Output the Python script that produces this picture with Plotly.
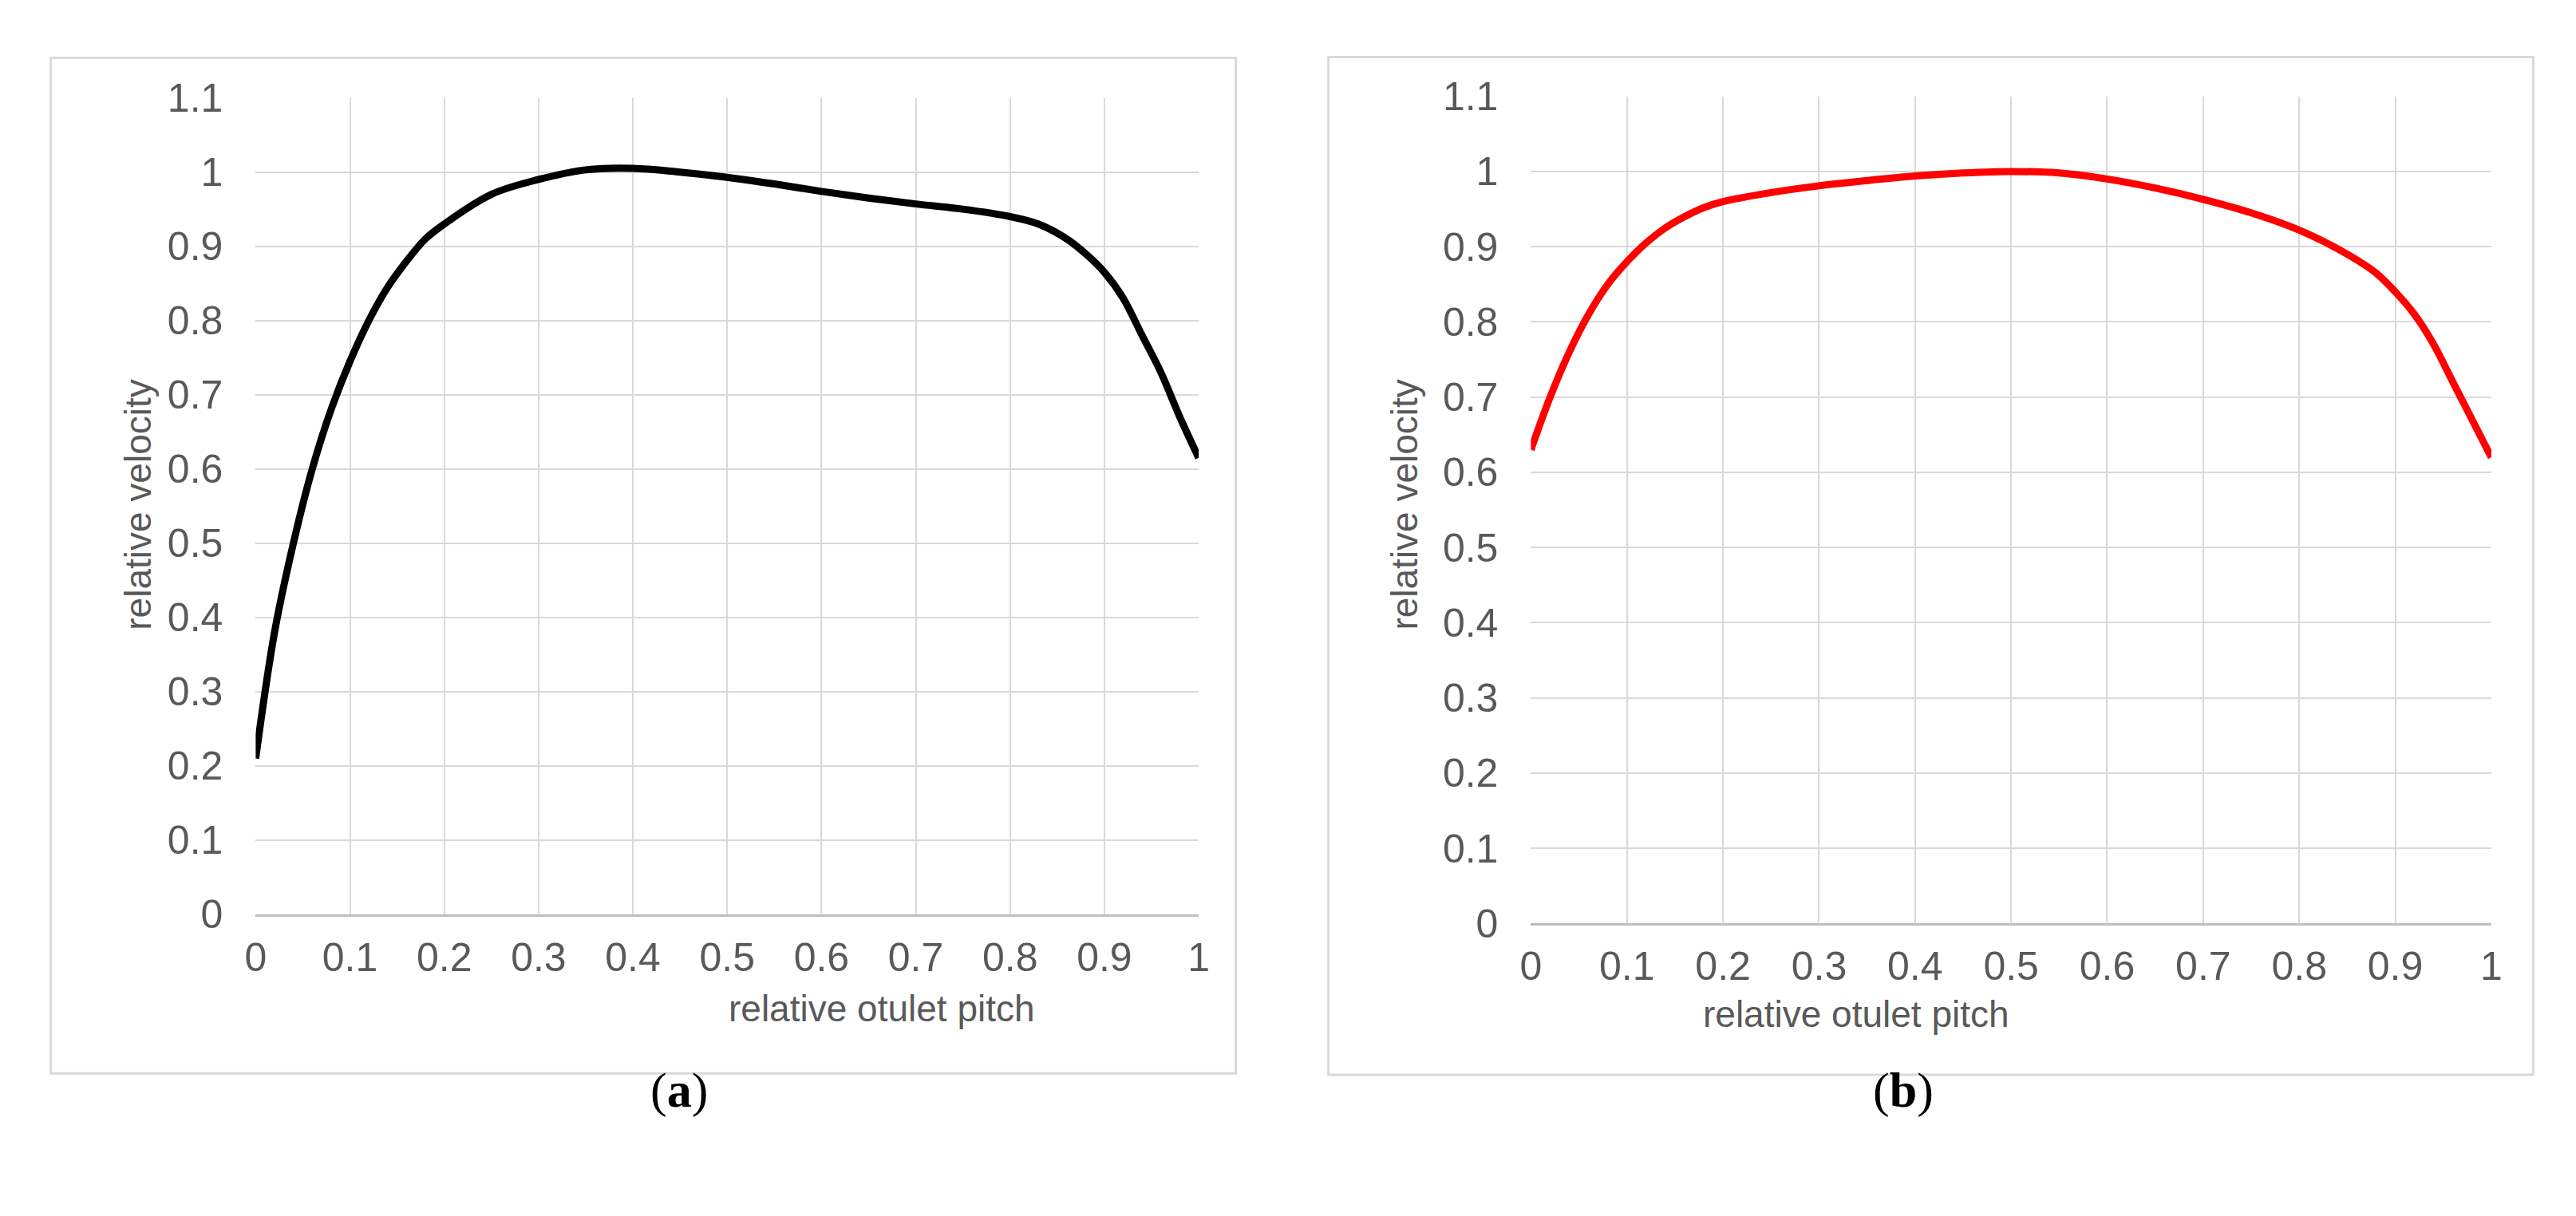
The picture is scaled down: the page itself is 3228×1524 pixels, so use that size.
import plotly.graph_objects as go

x_a = [0, 0.02, 0.04, 0.06, 0.08, 0.1, 0.12, 0.14, 0.16, 0.18, 0.2, 0.25, 0.3, 0.35, 0.4, 0.45, 0.5, 0.55, 0.6, 0.65, 0.7, 0.75, 0.8, 0.83, 0.86, 0.88, 0.9, 0.92, 0.94, 0.96, 0.98, 1.0]
y_a = [0.21, 0.38, 0.50, 0.60, 0.68, 0.745, 0.80, 0.845, 0.88, 0.91, 0.93, 0.97, 0.99, 1.003, 1.005, 1.0, 0.993, 0.984, 0.974, 0.965, 0.957, 0.95, 0.94, 0.93, 0.91, 0.89, 0.865, 0.83, 0.78, 0.73, 0.67, 0.615]
x_b = [0, 0.02, 0.04, 0.06, 0.08, 0.1, 0.12, 0.14, 0.16, 0.18, 0.2, 0.25, 0.3, 0.35, 0.4, 0.45, 0.5, 0.55, 0.6, 0.65, 0.7, 0.75, 0.8, 0.85, 0.88, 0.9, 0.92, 0.94, 0.96, 0.98, 1.0]
y_b = [0.63, 0.70, 0.76, 0.81, 0.85, 0.88, 0.905, 0.925, 0.94, 0.952, 0.96, 0.972, 0.981, 0.988, 0.994, 0.998, 1.0, 0.998, 0.99, 0.978, 0.963, 0.945, 0.922, 0.89, 0.865, 0.84, 0.81, 0.77, 0.72, 0.67, 0.62]
x_ticks = [0, 0.1, 0.2, 0.3, 0.4, 0.5, 0.6, 0.7, 0.8, 0.9, 1]
x_ticktext = ["0", "0.1", "0.2", "0.3", "0.4", "0.5", "0.6", "0.7", "0.8", "0.9", "1"]
y_ticks = [0, 0.1, 0.2, 0.3, 0.4, 0.5, 0.6, 0.7, 0.8, 0.9, 1, 1.1]
y_ticktext = ["0", "0.1", "0.2", "0.3", "0.4", "0.5", "0.6", "0.7", "0.8", "0.9", "1", "1.1"]
x_title = "relative otulet pitch"
y_title = "relative velocity"
panel_labels = ["a", "b"]

W, H = 3228, 1524
def px(v): return v / W
def py(v): return 1 - v / H

fig = go.Figure()
fig.add_trace(go.Scatter(x=x_a, y=y_a, mode="lines", line=dict(color="black", width=9, shape="spline"),
                         xaxis="x", yaxis="y", showlegend=False))
fig.add_trace(go.Scatter(x=x_b, y=y_b, mode="lines", line=dict(color="#ff0000", width=9, shape="spline"),
                         xaxis="x2", yaxis="y2", showlegend=False))

tickfont = dict(family="Liberation Sans, Arial", size=50, color="#595959")
def xax(dom, anchor):
    return dict(domain=dom, anchor=anchor, range=[0, 1], tickvals=x_ticks, ticktext=x_ticktext,
                showgrid=True, gridcolor="#d9d9d9", gridwidth=2, showline=True, linecolor="#bfbfbf",
                linewidth=3, zeroline=False, tickfont=tickfont, ticks="", ticklabelstandoff=8)
def yax(dom, anchor):
    return dict(domain=dom, anchor=anchor, range=[0, 1.1], tickvals=y_ticks, ticktext=y_ticktext,
                showgrid=True, gridcolor="#d9d9d9", gridwidth=2, showline=False, zeroline=False,
                tickfont=tickfont, ticks="", ticklabelstandoff=40)

fig.update_layout(
    width=W, height=H, margin=dict(l=0, r=0, t=0, b=0),
    paper_bgcolor="white", plot_bgcolor="white",
    xaxis=xax([px(301), px(1493)], "y"), yaxis=yax([py(1153), py(90)], "x"),
    xaxis2=xax([px(1913), px(3127)], "y2"), yaxis2=yax([py(1165), py(88)], "x2"),
)

for (l, t, r, b) in [(42, 38, 1540, 1360), (1657, 37, 3180, 1362)]:
    fig.add_shape(type="rect", xref="paper", yref="paper", x0=px(l), x1=px(r), y0=py(b), y1=py(t),
                  line=dict(color="#d9d9d9", width=3), layer="below")

titlefont = dict(family="Liberation Sans, Arial", size=46, color="#595959")
for cx, ty in [(897, 1305), (2520, 1312)]:
    fig.add_annotation(text=x_title, xref="paper", yref="paper", x=px(cx), y=py(ty), showarrow=False, font=titlefont)
for cx, cy in [(124, 620), (1753, 620)]:
    fig.add_annotation(text=y_title, xref="paper", yref="paper", x=px(cx), y=py(cy), showarrow=False,
                       font=titlefont, textangle=-90)
for lab, cx in zip(panel_labels, [798, 2424]):
    fig.add_annotation(text="(<b>%s</b>)" % lab, xref="paper", yref="paper", x=px(cx), y=py(1420),
                       showarrow=False, font=dict(family="Liberation Serif, Times New Roman", size=62, color="black"))

fig.write_html("out.html")
